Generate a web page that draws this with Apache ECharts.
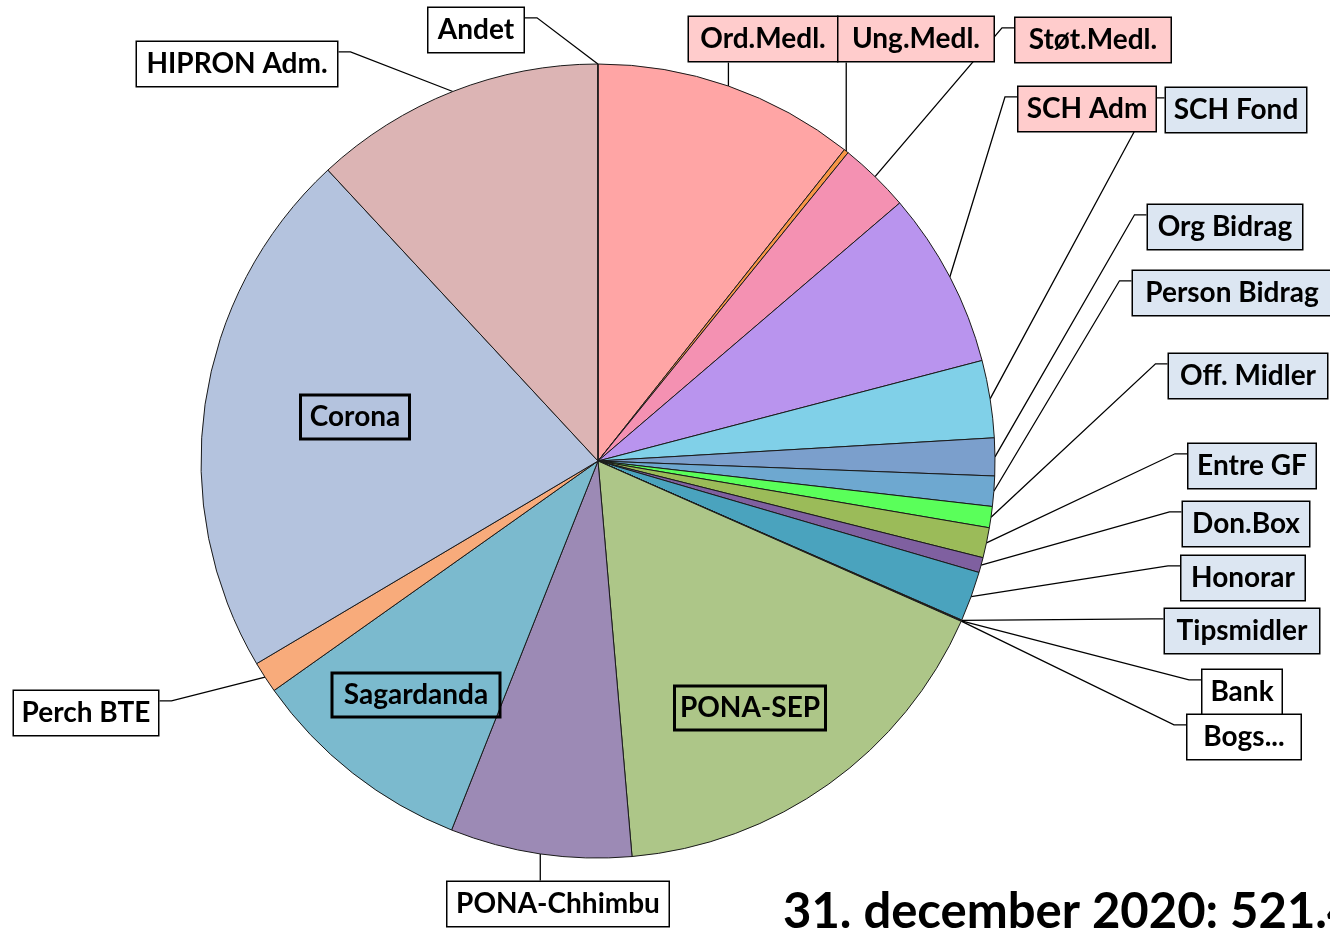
<!DOCTYPE html>
<html>
<head>
<meta charset="utf-8">
<script src="https://cdn.jsdelivr.net/npm/echarts@6/dist/echarts.min.js"></script>
<style>
html,body{margin:0;padding:0;background:#fff;}
#chart{width:1330px;height:928px;}
</style>
</head>
<body>
<div id="chart"></div>
<script>
// ---- data ----
const categories = ['Ord.Medl.','Ung.Medl.','Støt.Medl.','SCH Adm','SCH Fond','Org Bidrag','Person Bidrag','Off. Midler','Entre GF','Don.Box','Honorar','Tipsmidler','Bank','Bogs...','PONA-SEP','PONA-Chhimbu','Sagardanda','Perch BTE','Corona','HIPRON Adm.','Andet'];
const values = [55.6,1.0,15.1,37.5,16.4,8.0,6.4,4.5,6.4,3.2,10.6,0.15,0.07,0.07,88.8,38.5,47.9,6.7,112.8,62.1,0.05];
const titleText = '31. december 2020: 521.4';

// ---- styles / layout ----
const sliceColors = ['#ffa5a5','#f79646','#f491b2','#b994ee','#80d0e8','#7b9fcc','#6ea8d0','#5aff5a','#9bbb59','#7f60a0','#4aa3be','#f0a04b','#c0504d','#4f81bd','#adc688','#9c8ab5','#7bbace','#f8ab7b','#b4c3de','#dcb4b4','#999999'];
const PINK = '#ffcccc', BLUE = '#dce6f2', WHITE = '#ffffff', NONE = 'transparent';
const boxFill = [PINK,PINK,PINK,PINK,BLUE,BLUE,BLUE,BLUE,BLUE,BLUE,BLUE,BLUE,WHITE,WHITE,NONE,WHITE,NONE,WHITE,NONE,WHITE,WHITE];
const insideLabels = ['PONA-SEP','Sagardanda','Corona'];
// label box centre x, centre y, box width
const labelBox = {
  'Ord.Medl.':[763,39,150], 'Ung.Medl.':[916,39,157], 'Støt.Medl.':[1093,40,157],
  'SCH Adm':[1087,109,139], 'SCH Fond':[1236,110,142], 'Org Bidrag':[1225,227,156],
  'Person Bidrag':[1232,293,200], 'Off. Midler':[1248,376,160], 'Entre GF':[1252,466,129],
  'Don.Box':[1246,524,128], 'Honorar':[1243,578,125], 'Tipsmidler':[1242,631,156],
  'Bank':[1242,692,81], 'Bogs...':[1244,737,115], 'PONA-SEP':[750,708,153],
  'PONA-Chhimbu':[558,904,223], 'Sagardanda':[416,695,170], 'Perch BTE':[86,713,146],
  'Corona':[355,417,111], 'HIPRON Adm.':[237,64,202], 'Andet':[476,30,97]
};
const FONT = 'Lato, "Open Sans", sans-serif';

const data = categories.map(function (c, i) {
  const inside = insideLabels.indexOf(c) >= 0;
  return {
    name: c,
    value: values[i],
    itemStyle: { color: sliceColors[i] },
    label: {
      position: inside ? 'inside' : 'outside',
      backgroundColor: boxFill[i],
      width: labelBox[c][2] - 2
    },
    labelLine: { show: !inside }
  };
});

const chart = echarts.init(document.getElementById('chart'), null, { renderer: 'canvas' });
chart.setOption({
  backgroundColor: '#ffffff',
  animation: false,
  graphic: [{
    type: 'text', left: 783, top: 888, silent: true,
    style: { text: titleText, font: 'bold 49px ' + FONT, fill: '#000' }
  }],
  series: [{
    type: 'pie',
    center: [598, 461],
    radius: 397,
    startAngle: 90,
    clockwise: true,
    avoidLabelOverlap: false,
    silent: true,
    itemStyle: { borderColor: '#1a1a1a', borderWidth: 1 },
    label: {
      show: true,
      formatter: '{b}',
      fontFamily: FONT,
      fontWeight: 'bold',
      fontSize: 28,
      color: '#000',
      lineHeight: 44,
      padding: [0, 0],
      align: 'center',
      borderColor: '#000',
      borderWidth: 1.5
    },
    labelLine: { show: true, lineStyle: { color: '#000', width: 1.3 } },
    labelLayout: function (p) {
      const name = categories[p.dataIndex];
      const L = labelBox[name];
      const w = p.labelRect.width, h = p.labelRect.height;
      const cx = L[0], cy = L[1];
      const bx = cx - w / 2, by = cy - h / 2;
      const res = { x: cx, y: cy, align: 'center', verticalAlign: 'middle' };
      const pts = p.labelLinePoints;
      if (pts && pts.length) {
        const s = pts[0];
        let a, e;
        if (s[0] >= bx && s[0] <= bx + w) {
          const yy = s[1] > by + h ? by + h : by;
          a = [s[0], yy]; e = [s[0], yy];
        } else if (s[0] < bx) {
          const yy = by + 0.24 * h;
          a = [bx, yy]; e = [bx - 12, yy];
        } else {
          const yy = by + 0.24 * h;
          a = [bx + w, yy]; e = [bx + w + 12, yy];
        }
        res.labelLinePoints = [[s[0], s[1]], e, a];
      }
      return res;
    },
    data: data
  }]
});
</script>
</body>
</html>
